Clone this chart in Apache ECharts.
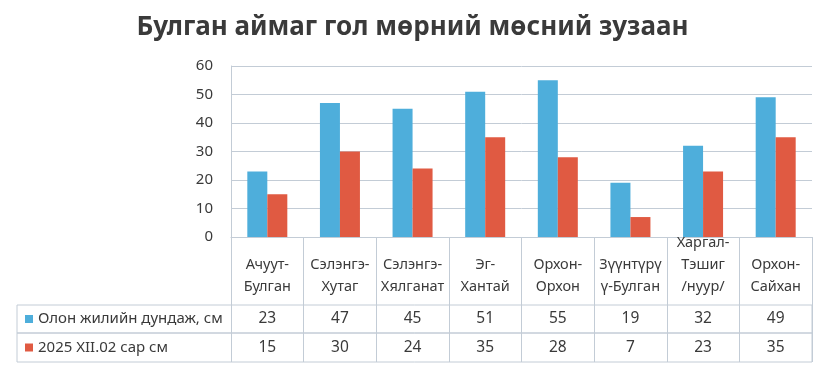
<!DOCTYPE html>
<html>
<head>
<meta charset="utf-8">
<script src="https://cdn.jsdelivr.net/npm/echarts@6/dist/echarts.min.js"></script>
<style>html,body{margin:0;padding:0;background:#fff}#c{width:825px;height:365px}</style>
</head>
<body>
<div id="c"></div>
<script>
const titleText = 'Булган аймаг гол мөрний мөсний зузаан';
const categories = ['Ачуут-\nБулган', 'Сэлэнгэ-\nХутаг', 'Сэлэнгэ-\nХялганат', 'Эг-\nХантай', 'Орхон-\nОрхон', 'Зүүнтүрү\nү-Булган', 'Харгал-\nТэшиг\n/нуур/', 'Орхон-\nСайхан'];
const seriesNames = ['Олон жилийн дундаж, см', '2025 XII.02 сар см'];
const longTermAvg = [23, 47, 45, 51, 55, 19, 32, 49];
const current2025 = [15, 30, 24, 35, 28, 7, 23, 35];
const yTicks = [0, 10, 20, 30, 40, 50, 60];

const colors = ['#4eaedb', '#e05a42'];
const lineColor = '#c3ccd6';
const textColor = '#3a3a3a';
const FONT = 'Noto Sans';

const plotLeft = 231, plotRight = 13;
const rowGrids = [
  { top: 305, height: 28 },
  { top: 333, height: 29 }
];

const grids = [
  { left: plotLeft, right: plotRight, top: 66, height: 171, containLabel: false }
];
const xAxes = [{
  type: 'category', gridIndex: 0, data: categories,
  axisLine: { show: true, lineStyle: { color: lineColor } },
  axisTick: { show: true, interval: 0, length: 125, lineStyle: { color: lineColor } },
  axisLabel: { interval: 0, color: textColor, fontFamily: FONT, fontSize: 14.5, lineHeight: 22, verticalAlign: 'bottom', margin: 61 }
}];
const yAxes = [{
  type: 'value', gridIndex: 0, min: yTicks[0], max: yTicks[yTicks.length - 1], interval: 10,
  axisLine: { show: true, lineStyle: { color: lineColor } },
  axisTick: { show: false },
  splitLine: { lineStyle: { color: lineColor } },
  axisLabel: { color: textColor, fontFamily: FONT, fontSize: 15, margin: 18 }
}];

const dataRows = [longTermAvg, current2025];
rowGrids.forEach((rg, i) => {
  grids.push({ left: 17, right: plotRight, top: rg.top, height: rg.height, show: true, borderColor: lineColor, borderWidth: 1, backgroundColor: 'transparent' });
  grids.push({ left: plotLeft, right: plotRight, top: rg.top, height: rg.height });
  const gi = grids.length - 1;
  xAxes.push({
    type: 'category', gridIndex: gi, data: dataRows[i].map(String),
    axisLine: { show: false }, axisTick: { show: false },
    axisLabel: { interval: 0, inside: true, margin: rg.height / 2, verticalAlign: 'middle', color: textColor, fontFamily: FONT, fontSize: 15.5 }
  });
  const key = 'k' + i;
  yAxes.push({
    type: 'category', gridIndex: gi, data: [seriesNames[i]],
    axisLine: { show: false }, axisTick: { show: false },
    axisLabel: {
      align: 'left', margin: plotLeft - 25,
      formatter: v => '{' + key + '|}{t|' + v + '}',
      rich: {
        [key]: { width: 8, height: 8, backgroundColor: colors[i] },
        t: { color: textColor, fontFamily: FONT, fontSize: 15, padding: [0, 0, 0, 5] }
      }
    }
  });
  xAxes.push({ type: 'category', gridIndex: gi - 1, data: [''], show: false });
  yAxes.push({ type: 'category', gridIndex: gi - 1, data: [''], show: false });
});

const option = {
  backgroundColor: '#ffffff',
  animation: false,
  title: {
    text: titleText, left: 'center', top: 10,
    textStyle: { color: '#3a3a3a', fontFamily: FONT, fontWeight: 'bold', fontSize: 26 }
  },
  grid: grids,
  xAxis: xAxes,
  yAxis: yAxes,
  series: [
    { name: seriesNames[0], type: 'bar', xAxisIndex: 0, yAxisIndex: 0, data: longTermAvg, barWidth: 20, barGap: '0%', itemStyle: { color: colors[0] } },
    { name: seriesNames[1], type: 'bar', xAxisIndex: 0, yAxisIndex: 0, data: current2025, barWidth: 20, barGap: '0%', itemStyle: { color: colors[1] } }
  ]
};
const chart = echarts.init(document.getElementById('c'), null, { renderer: 'canvas' });
chart.setOption(option);
</script>
</body>
</html>
